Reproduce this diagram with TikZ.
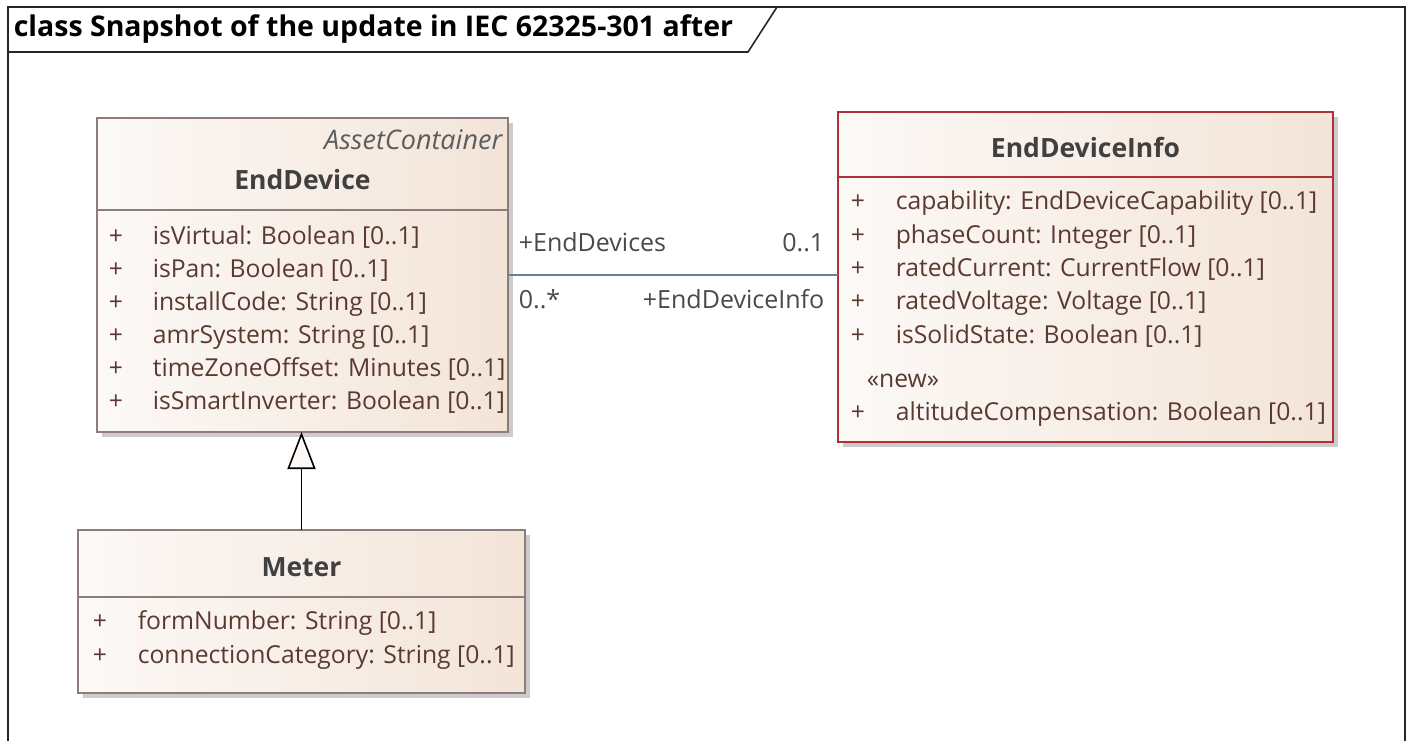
\documentclass[tikz,border=0pt]{standalone}
\usepackage{fontspec}
\setmainfont{Open Sans}
\usetikzlibrary{arrows.meta,shadows}

\definecolor{boxline}{HTML}{8E7C78}
\definecolor{infoline}{HTML}{B0303A}
\definecolor{fillL}{HTML}{FCF9F7}
\definecolor{fillR}{HTML}{F3E4D8}
\definecolor{attrtext}{HTML}{5A3A30}
\definecolor{nametext}{HTML}{404040}
\definecolor{roletext}{HTML}{48484E}
\definecolor{assocline}{HTML}{6E7C9C}

\begin{document}
\begin{tikzpicture}
[x=1pt, y=-1pt, line width=1.6pt,
 classbox/.style={draw=boxline, left color=fillL, right color=fillR,
   anchor=north west, inner sep=0pt, outer sep=0pt,
   drop shadow={shadow xshift=5pt, shadow yshift=-5pt, fill=black!20, opacity=1}},
 cname/.style={text=nametext, font=\bfseries\fontsize{26.5}{30}\selectfont},
 stereo/.style={text=nametext!85, font=\itshape\fontsize{27}{31}\selectfont, inner sep=0pt},
 attr/.style={text=attrtext, font=\fontsize{24.7}{29}\selectfont, anchor=west, inner sep=0pt,
   text height=18pt, text depth=5pt},
 role/.style={text=roletext, font=\fontsize{25}{29}\selectfont, inner sep=0pt,
   text height=18pt, text depth=5pt}]
\useasboundingbox (0,0) rectangle (1410,740);
% frame and its title tab
\draw[line width=2pt, black!85] (8,7) rectangle (1405,760);
\draw[line width=1.6pt, black!85] (8,52) -- (748,52) -- (777,7);
\node[anchor=west, inner sep=0pt, font=\bfseries\fontsize{28.5}{32}\selectfont] (title) at (13,29)
  {class Snapshot of the update in IEC 62325-301 after};

% EndDevice
\node[classbox, minimum width=411pt, minimum height=314pt] (dev) at (97,118) {};
\draw[boxline] (dev.west |- 0,210) -- (dev.east |- 0,210);
\node[stereo, anchor=east] (devst) at (503,140) {AssetContainer};
\node[cname] (devname) at (302.5,180) {EndDevice};
\foreach \y/\t in {238/{isVirtual: Boolean [0..1]}, 271/{isPan: Boolean [0..1]},
  304/{installCode: String [0..1]}, 337/{amrSystem: String [0..1]},
  370/{timeZoneOffset: Minutes [0..1]}, 403/{isSmartInverter: Boolean [0..1]}}
{
  \node[attr] (devplus\y) at (108,\y) {+};
  \node[attr] (devattr\y) at (152,\y) {\t};
}

% EndDeviceInfo
\node[classbox, draw=infoline, minimum width=495pt, minimum height=330pt] (info) at (838,112) {};
\draw[infoline] (info.west |- 0,177) -- (info.east |- 0,177);
\node[cname] (infoname) at (1085.5,147) {EndDeviceInfo};
\foreach \y/\t in {203/{capability: EndDeviceCapability [0..1]}, 237/{phaseCount: Integer [0..1]},
  270/{ratedCurrent: CurrentFlow [0..1]}, 303/{ratedVoltage: Voltage [0..1]},
  337/{isSolidState: Boolean [0..1]}, 414/{altitudeCompensation: Boolean [0..1]}}
{
  \node[attr] (infoplus\y) at (850,\y) {+};
  \node[attr] (infoattr\y) at (895,\y) {\t};
}
\node[attr] (infonew) at (866,381) {«new»};

% Meter
\node[classbox, minimum width=447pt, minimum height=163pt] (meter) at (78,530) {};
\draw[boxline] (meter.west |- 0,597) -- (meter.east |- 0,597);
\node[cname] (metername) at (301.5,567) {Meter};
\foreach \y/\t in {623/{formNumber: String [0..1]}, 657/{connectionCategory: String [0..1]}}
{
  \node[attr] (meterplus\y) at (92,\y) {+};
  \node[attr] (meterattr\y) at (137,\y) {\t};
}

% generalization and association
\draw[black, -{Triangle[open, fill=fillL, length=37pt, width=28pt]}]
  (meter.north) -- (meter.north |- dev.south);
\draw[assocline] (dev.east) -- (dev.east -| info.west);
\node[role, anchor=west] (roleends) at (518,245) {+EndDevices};
\node[role, anchor=east] (multinfo) at (825,245) {0..1};
\node[role, anchor=west] (multends) at (518,302) {0..*};
\node[role, anchor=east] (roleinfo) at (825,302) {+EndDeviceInfo};
\end{tikzpicture}
\end{document}
